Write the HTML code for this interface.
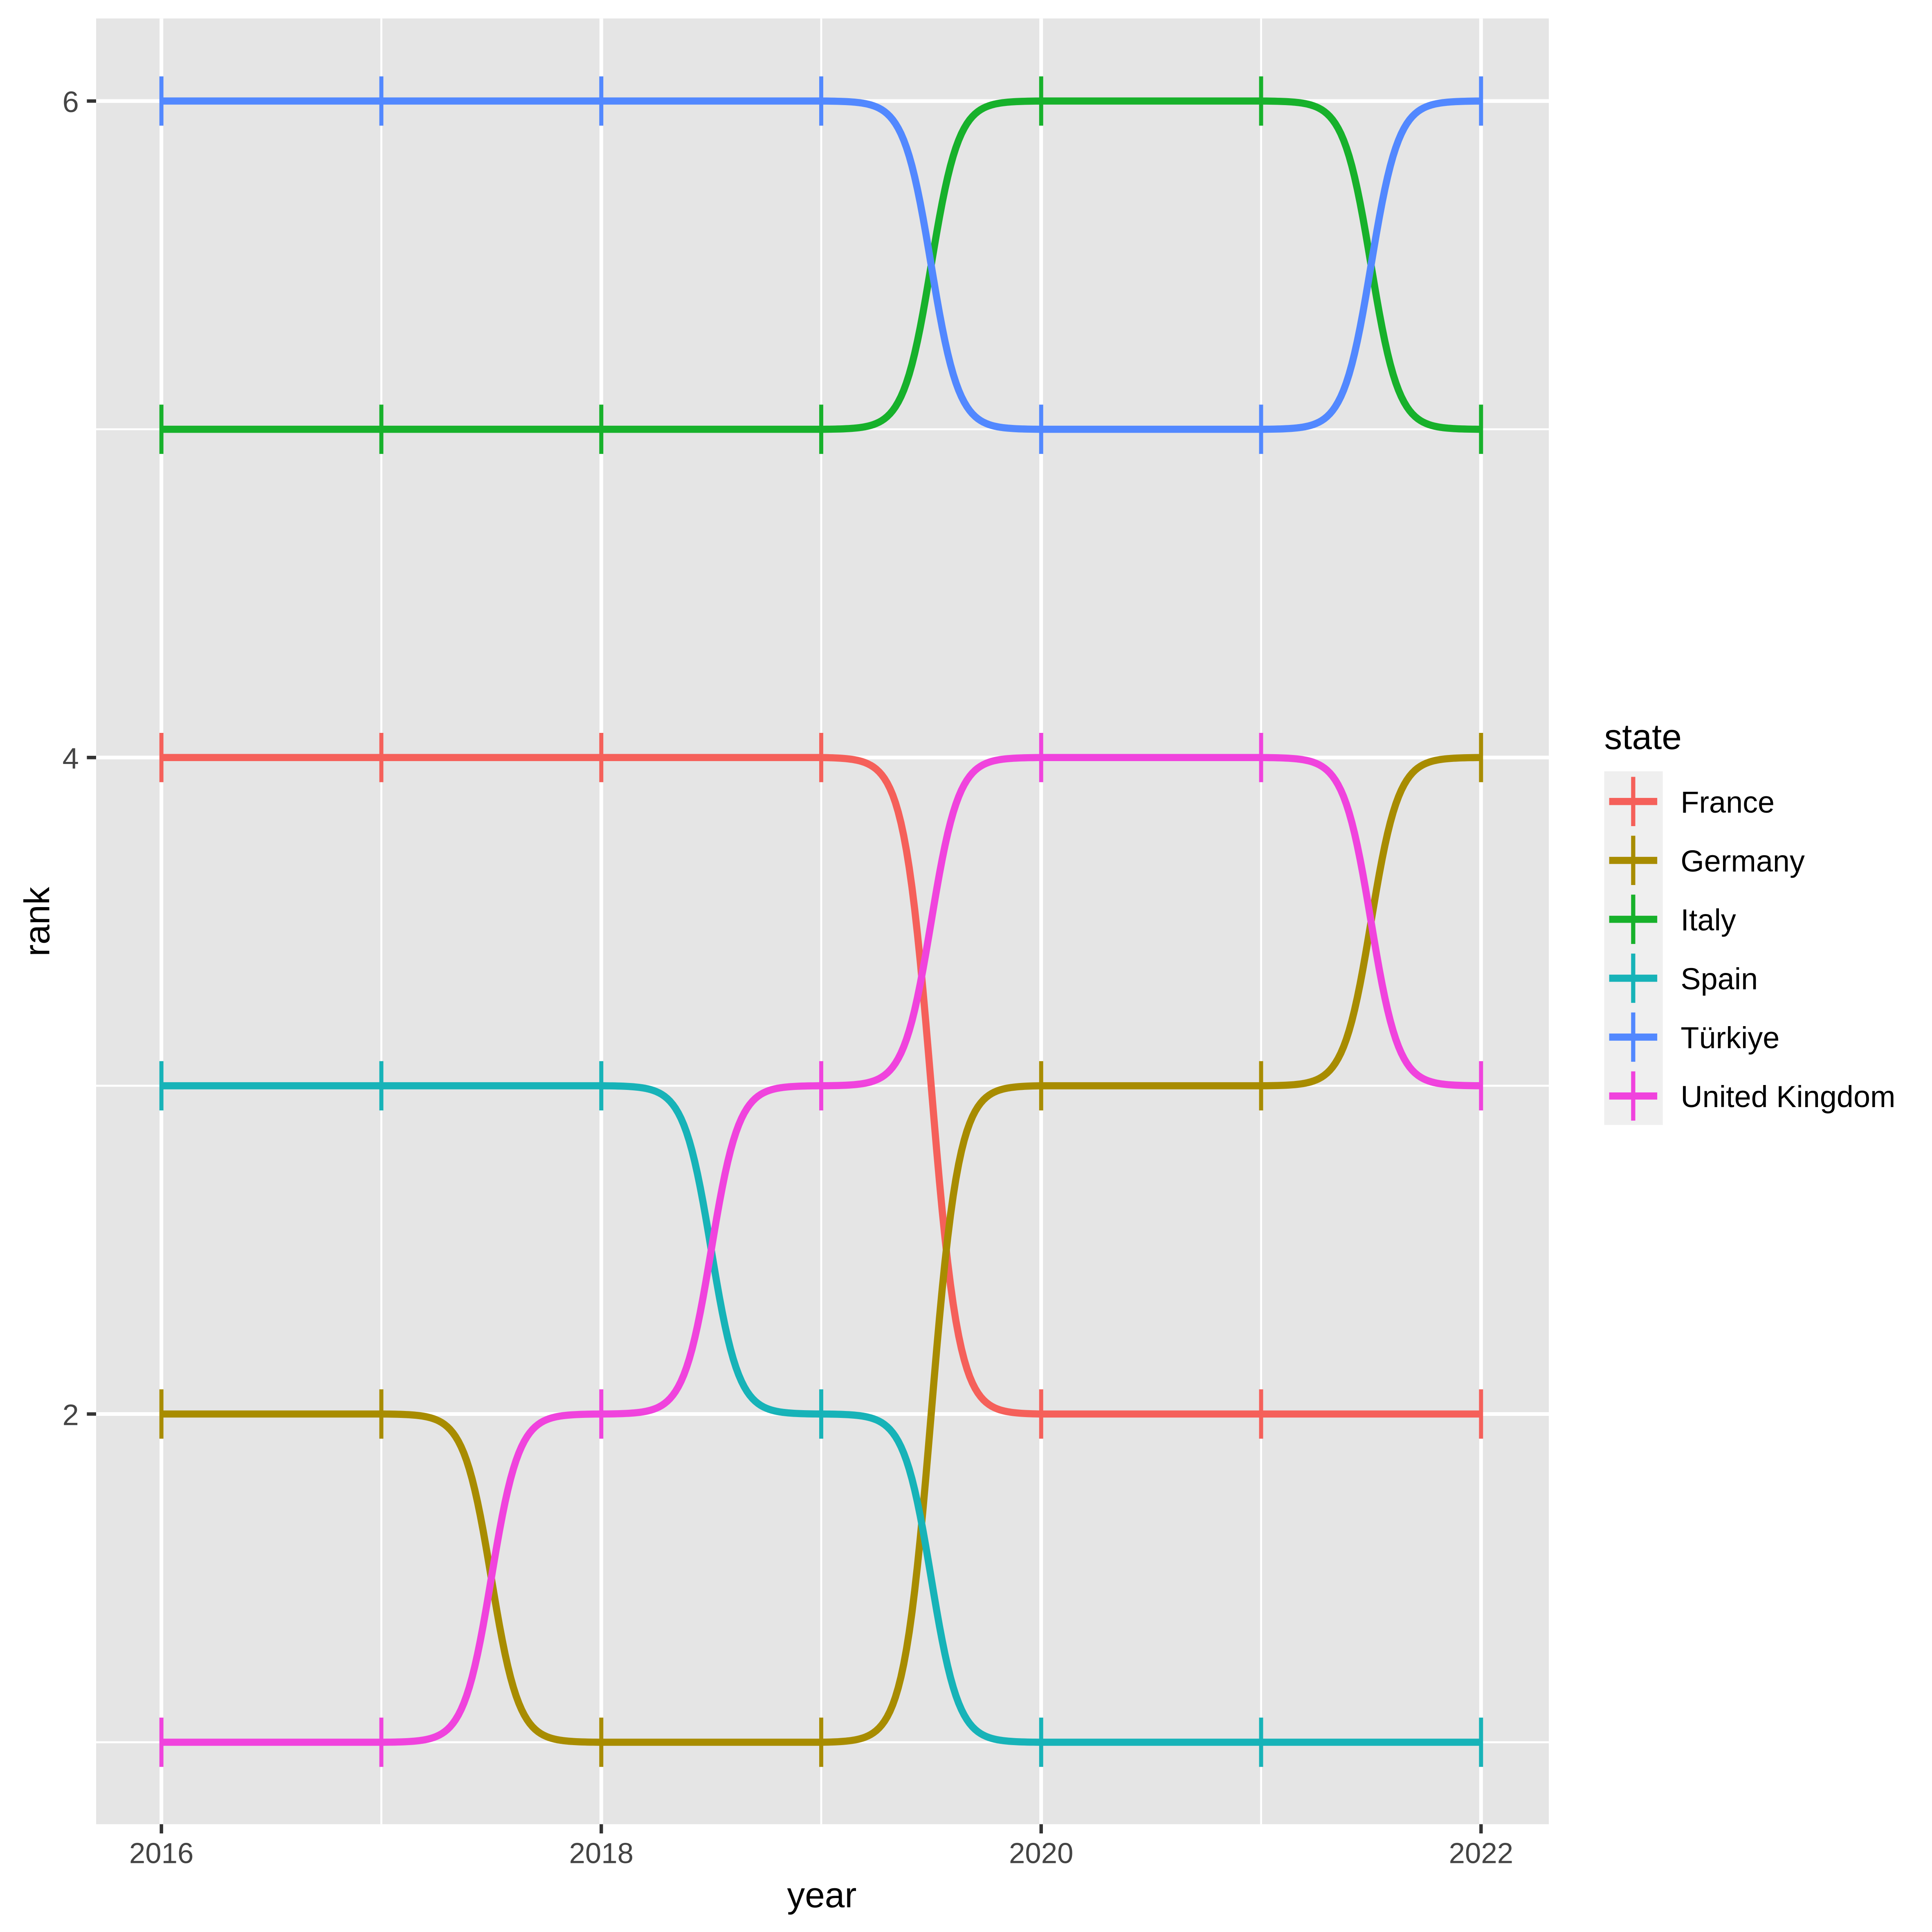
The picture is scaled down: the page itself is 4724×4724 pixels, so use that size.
<!DOCTYPE html>
<html><head><meta charset="utf-8"><style>html,body{margin:0;padding:0;background:#fff}svg{display:block}text{font-family:"Liberation Sans",Arial,sans-serif}</style></head>
<body>
<svg id="chart" width="4724" height="4724" viewBox="0 0 1568 1568" xmlns="http://www.w3.org/2000/svg">
<rect x="0" y="0" width="1568" height="1568" fill="#fff"/>
<rect x="78" y="15" width="1179" height="1465.5" fill="#E5E5E5"/>
<g id="grid"></g>
<g id="series"></g>
<g id="axes"></g>
<text x="667" y="1548" font-size="29" text-anchor="middle" fill="#000">year</text>
<text transform="translate(40,748) rotate(-90)" font-size="29" text-anchor="middle" fill="#000">rank</text>
<g id="legend">
<text x="1302" y="608" font-size="29" fill="#000">state</text>
</g>
</svg>
<script>
const years = [2016, 2017, 2018, 2019, 2020, 2021, 2022];
const states = ["France", "Germany", "Italy", "Spain", "Türkiye", "United Kingdom"];
const colors = ["#F5605A", "#A88C00", "#17B12B", "#17B3B8", "#5288FF", "#F043DD"];
const rankFrance = [4, 4, 4, 4, 2, 2, 2];
const rankGermany = [2, 2, 1, 1, 3, 3, 4];
const rankItaly = [5, 5, 5, 5, 6, 6, 5];
const rankSpain = [3, 3, 3, 2, 1, 1, 1];
const rankTurkiye = [6, 6, 6, 6, 5, 5, 6];
const rankUK = [1, 1, 2, 3, 4, 4, 3];
const xTicks = [2016, 2018, 2020, 2022];
const xMinor = [2017, 2019, 2021];
const yTicks = [2, 4, 6];
const yMinor = [1, 3, 5];

const series = [rankFrance, rankGermany, rankItaly, rankSpain, rankTurkiye, rankUK];
const NS = "http://www.w3.org/2000/svg";
const X = v => 131 + (v - 2016) * (1202 - 131) / 6;
const Y = v => 1414 - (v - 1) * (1414 - 82) / 5;
function mk(tag, attrs, parent) {
  const e = document.createElementNS(NS, tag);
  for (const k in attrs) e.setAttribute(k, attrs[k]);
  parent.appendChild(e);
  return e;
}
const grid = document.getElementById("grid");
xMinor.forEach(v => {
  const l = mk("line", {x1: X(v), x2: X(v), y1: 15, y2: 1480.5, stroke: "#fff", "stroke-width": 1.6}, grid);
  
  
});
yMinor.forEach(v => {
  const l = mk("line", {x1: 78, x2: 1257, y1: Y(v), y2: Y(v), stroke: "#fff", "stroke-width": 1.6}, grid);
  
  
});
xTicks.forEach(v => {
  const l = mk("line", {x1: X(v), x2: X(v), y1: 15, y2: 1480.5, stroke: "#fff", "stroke-width": 3}, grid);
  
  
});
yTicks.forEach(v => {
  const l = mk("line", {x1: 78, x2: 1257, y1: Y(v), y2: Y(v), stroke: "#fff", "stroke-width": 3}, grid);
  
  
});
const axes = document.getElementById("axes");
xTicks.forEach(v => {
  const t = mk("line", {x1: X(v), x2: X(v), y1: 1480.5, y2: 1488, stroke: "#333", "stroke-width": 2.8}, axes);
  
  
  const tx = mk("text", {x: X(v), y: 1512, "font-size": 23.5, "text-anchor": "middle", fill: "#444"}, axes);
  tx.textContent = v;
  
  
});
yTicks.forEach(v => {
  const t = mk("line", {x1: 70.5, x2: 78, y1: Y(v), y2: Y(v), stroke: "#333", "stroke-width": 2.8}, axes);
  
  
  const tx = mk("text", {x: 64, y: Y(v) + 9, "font-size": 24, "text-anchor": "end", fill: "#444"}, axes);
  tx.textContent = v;
  
  
});
const sg = document.getElementById("series");
const sigm = t => 1 / (1 + Math.exp(-t));
series.forEach((r, i) => {
  let d = "M" + X(years[0]) + "," + Y(r[0]);
  for (let k = 0; k < years.length - 1; k++) {
    const n = 80, lo = sigm(-8), hi = sigm(8);
    for (let j = 1; j <= n; j++) {
      const f = j / n;
      const s = (sigm(-8 + 16 * f) - lo) / (hi - lo);
      const xv = years[k] + f * (years[k + 1] - years[k]);
      const yv = r[k] + s * (r[k + 1] - r[k]);
      d += " L" + X(xv).toFixed(2) + "," + Y(yv).toFixed(2);
    }
  }
  const p = mk("path", {d: d, fill: "none", stroke: colors[i], "stroke-width": 5.8, "stroke-linejoin": "round"}, sg);
  
  
  years.forEach((yr, k) => {
    const g = mk("path", {d: `M${X(yr)},${Y(r[k]) - 20} V${Y(r[k]) + 20}`, stroke: colors[i], "stroke-width": 3.3, fill: "none"}, sg);
    
    
  });
});
const lg = document.getElementById("legend");
const kb = mk("rect", {x: 1302, y: 626, width: 47.5, height: 287, fill: "#EFEFEF"}, lg);


states.forEach((s, i) => {
  const cy = 650.5 + i * 47.8, cx = 1325.5;
  const g = mk("g", {}, lg);
  
  
  mk("path", {d: `M1306,${cy} H1345`, stroke: colors[i], "stroke-width": 5.8, fill: "none"}, g);
  mk("path", {d: `M${cx},${cy - 20} V${cy + 20}`, stroke: colors[i], "stroke-width": 3.4, fill: "none"}, g);
  const t = mk("text", {x: 1364, y: cy + 9, "font-size": 24.5, fill: "#000"}, g);
  t.textContent = s;
  
  
});
</script>
</body></html>
